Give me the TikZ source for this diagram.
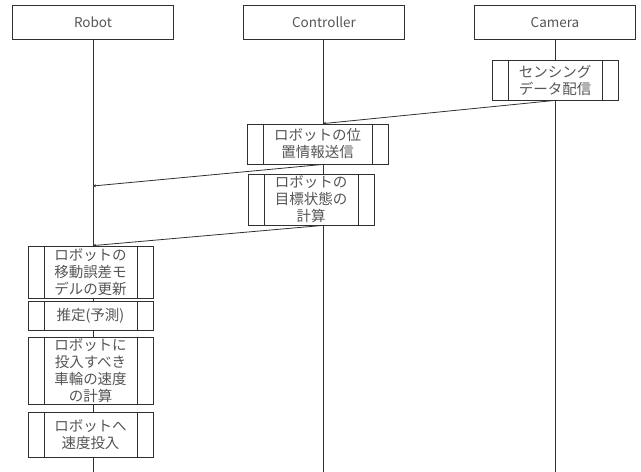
\documentclass[tikz,border=0pt]{standalone}
\usepackage{fontspec}
\newfontfamily\jp{Noto Sans CJK JP}
\usetikzlibrary{arrows.meta}
\definecolor{txt}{HTML}{555555}
\definecolor{ln}{HTML}{303030}
\tikzset{
  head/.style={draw=ln, line width=0.8pt, fill=white, minimum width=161pt, minimum height=34pt, inner sep=0pt, text=txt, font={\jp\fontsize{13.5}{16}\selectfont}},
  life/.style={draw=ln, line width=1pt},
  actbox/.style={draw=ln, line width=0.8pt, fill=white, inner sep=0pt, align=center, text=txt,
    font={\jp\fontsize{14.5}{17}\selectfont},
    path picture={
      \draw[ln, line width=0.8pt] ([xshift=16pt]path picture bounding box.north west) -- ([xshift=16pt]path picture bounding box.south west);
      \draw[ln, line width=0.8pt] ([xshift=-16pt]path picture bounding box.north east) -- ([xshift=-16pt]path picture bounding box.south east);
    }},
  msg/.style={draw=ln, line width=0.8pt, -{Stealth[length=3pt,width=3pt]}}
}
\begin{document}
\begin{tikzpicture}[x=1pt,y=-1pt]
\useasboundingbox[fill=white] (0,0) rectangle (641,472);
% heads
\node[head] (robot) at (93,22.5) {Robot};
\node[head] (ctrl) at (324,22.5) {Controller};
\node[head] (cam) at (555,22.5) {Camera};
% lifeline ends
\coordinate (robotend) at (93,472);
\coordinate (ctrlend) at (323,472);
\coordinate (camend) at (555,472);
\draw[life] (robot.south -| robotend) -- (robotend);
\draw[life] (ctrl.south -| ctrlend) -- (ctrlend);
\draw[life] (cam.south -| camend) -- (camend);
% activation boxes
\node[actbox, minimum width=126pt, minimum height=40pt] (cam1) at (555,80) {センシング\\データ配信};
\node[actbox, minimum width=141pt, minimum height=40pt] (cb1) at (317.5,144) {ロボットの位\\置情報送信};
\node[actbox, minimum width=126pt, minimum height=51pt] (cb2) at (311,199.5) {ロボットの\\目標状態の\\計算};
\node[actbox, minimum width=125pt, minimum height=52pt] (rb1) at (90.5,272) {ロボットの\\移動誤差モ\\デルの更新};
\node[actbox, minimum width=125pt, minimum height=29pt] (rb2) at (90.5,315.5) {推定(予測)};
\node[actbox, minimum width=125pt, minimum height=67pt] (rb3) at (90.5,370.5) {ロボットに\\投入すべき\\車輪の速度\\の計算};
\node[actbox, minimum width=125pt, minimum height=45pt] (rb4) at (90.5,434.5) {ロボットへ\\速度投入};
% messages
\coordinate (r1) at (93,186);
\draw[msg] (cam1.south -| camend) -- (cb1.north -| ctrlend);
\draw[msg] (cb1.south -| ctrlend) -- (r1);
\draw[msg] (cb2.south -| ctrlend) -- (rb1.north -| robotend);
\end{tikzpicture}
\end{document}
